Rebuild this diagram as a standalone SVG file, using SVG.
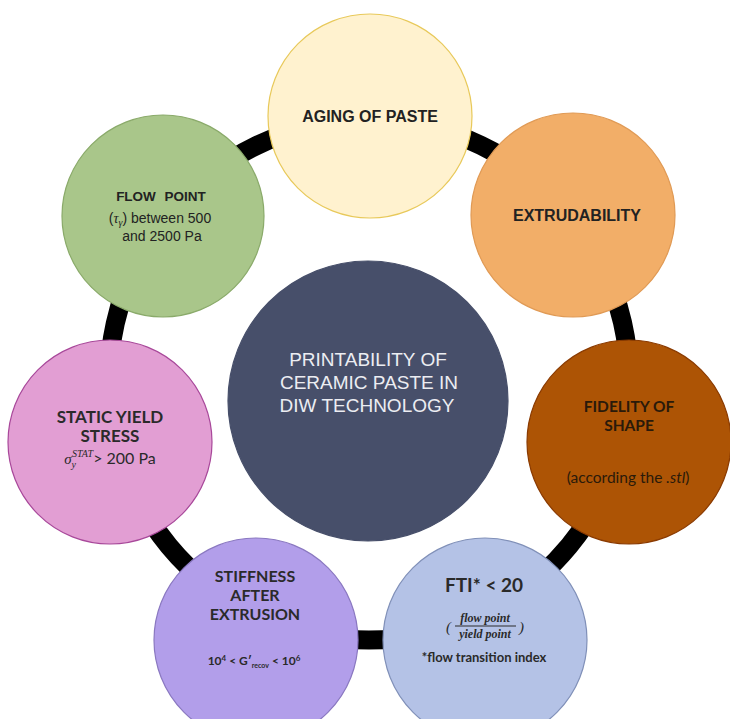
<svg xmlns="http://www.w3.org/2000/svg" width="730" height="719" viewBox="0 0 730 719">
<style>
.node circle{stroke-width:1.2}
.t{font-family:"Liberation Sans",Arial,sans-serif;fill:#222;text-anchor:middle}
.b{font-weight:bold}
.c{font-family:Lato,"Liberation Sans",sans-serif;fill:#2a2a2a;text-anchor:middle}
.m{font-family:"Liberation Serif","Times New Roman",serif;font-style:italic}
.ring{fill:none;stroke:#000;stroke-width:19}
</style>
<rect width="730" height="719" fill="#fff"/>
<g id="connectors">
<path class="ring" d="M369,120 A260,260 0 0 1 571,216.4"/>
<path class="ring" d="M571,216.4 A260,260 0 0 1 621.9,440.2"/>
<path class="ring" d="M621.9,440.2 A260,260 0 0 1 475.2,617.3"/>
<path class="ring" d="M475.2,617.3 A260,260 0 0 1 262.8,617.3"/>
<path class="ring" d="M262.8,617.3 A260,260 0 0 1 116.1,440.2"/>
<path class="ring" d="M116.1,440.2 A260,260 0 0 1 165.5,218.2"/>
<path class="ring" d="M165.5,218.2 A260,260 0 0 1 369,120"/>
</g>
<g id="center" class="node">
<circle cx="368" cy="401" r="140" fill="#474F6A" stroke="#474F6A"/>
<text class="t" x="368" y="366" font-size="19" style="fill:#ECEDF2">PRINTABILITY OF</text>
<text class="t" x="369" y="389" font-size="19" style="fill:#ECEDF2">CERAMIC PASTE IN</text>
<text class="t" x="367" y="412" font-size="19" style="fill:#ECEDF2">DIW TECHNOLOGY</text>
</g>
<g id="aging" class="node">
<circle cx="370" cy="116" r="102" fill="#FFF2CF" stroke="#E8C95A"/>
<text class="t b" x="370" y="122" font-size="16">AGING OF PASTE</text>
</g>
<g id="extrudability" class="node">
<circle cx="573" cy="215" r="102" fill="#F2AE68" stroke="#E09A55"/>
<text class="t b" x="577" y="221" font-size="16">EXTRUDABILITY</text>
</g>
<g id="fidelity" class="node">
<circle cx="629" cy="442" r="102" fill="#AD5405" stroke="#8A3A00"/>
<text class="c b" x="629" y="412" font-size="15.5" style="fill:#2a1a0a">FIDELITY OF</text>
<text class="c b" x="629" y="431" font-size="15.5" style="fill:#2a1a0a">SHAPE</text>
<text class="c" x="628" y="483" font-size="15.5" style="fill:#2a1a0a">(according the <tspan font-style="italic">.stl</tspan>)</text>
</g>
<g id="fti" class="node">
<circle cx="485" cy="640" r="102" fill="#B4C2E6" stroke="#8090B8"/>
<text class="c b" x="484" y="592" font-size="19">FTI* &lt; 20</text>
<text class="m" x="446" y="632" font-size="15" fill="#2a2a2a">(</text>
<text class="m b" x="485" y="622" font-size="12" fill="#2a2a2a" text-anchor="middle">flow point</text>
<line x1="455" y1="626" x2="516" y2="626" stroke="#2a2a2a" stroke-width="1"/>
<text class="m b" x="485" y="638" font-size="12" fill="#2a2a2a" text-anchor="middle">yield point</text>
<text class="m" x="519" y="632" font-size="15" fill="#2a2a2a">)</text>
<text class="c b" x="484" y="662" font-size="13">*flow transition index</text>
</g>
<g id="stiffness" class="node">
<circle cx="256" cy="640" r="102" fill="#B29EEA" stroke="#8A78C0"/>
<text class="c b" x="255" y="582" font-size="16">STIFFNESS</text>
<text class="c b" x="255" y="601" font-size="16">AFTER</text>
<text class="c b" x="255" y="620" font-size="16">EXTRUSION</text>
<text class="c b" x="254" y="665" font-size="12">10<tspan font-size="8" dy="-4">4</tspan><tspan dy="4"> &lt; G′</tspan><tspan font-size="7" dy="3">recov</tspan><tspan dy="-3"> &lt; 10</tspan><tspan font-size="8" dy="-4">6</tspan></text>
</g>
<g id="static-yield" class="node">
<circle cx="110" cy="442" r="102" fill="#E29ED3" stroke="#A8489A"/>
<text class="c b" x="110" y="423" font-size="17">STATIC YIELD</text>
<text class="c b" x="110" y="442" font-size="17">STRESS</text>
<text class="c" x="110" y="464" font-size="16"><tspan class="m" font-size="15">σ</tspan><tspan class="m" font-size="10" dy="4">y</tspan><tspan class="m" font-size="10" dy="-11" dx="-4">STAT</tspan><tspan dy="7">&gt; 200 Pa</tspan></text>
</g>
<g id="flow-point" class="node">
<circle cx="163" cy="216" r="101" fill="#A9C68A" stroke="#8AAA6A"/>
<text class="t b" x="161" y="201" font-size="13.5" word-spacing="5">FLOW POINT</text>
<text class="t" x="160" y="223" font-size="14">(<tspan class="m">τ</tspan><tspan class="m" font-size="10" dy="3">γ</tspan><tspan dy="-3">) between 500</tspan></text>
<text class="t" x="162" y="241" font-size="14">and 2500 Pa</text>
</g>
</svg>
